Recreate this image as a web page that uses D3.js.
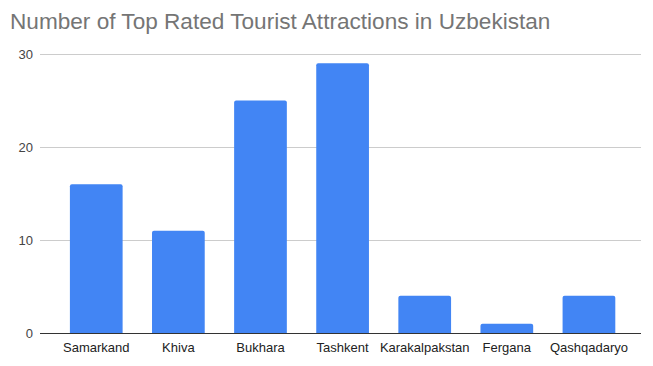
<!DOCTYPE html>
<html><head><meta charset="utf-8">
<script src="https://cdn.jsdelivr.net/npm/d3@7"></script>
<style>body{margin:0;background:#fff;} text{font-family:Arial,"Liberation Sans",sans-serif;}</style>
</head><body><svg id="c" width="653" height="366"></svg>
<script>
const categories = ["Samarkand","Khiva","Bukhara","Tashkent","Karakalpakstan","Fergana","Qashqadaryo"];
const values = [16, 11, 25, 29, 4, 1, 4];
const yTicks = [0, 10, 20, 30];
const title = "Number of Top Rated Tourist Attractions in Uzbekistan";

const svg = d3.select("#c");
const W = 653, H = 366;
const plotL = 40, plotR = 641, plotT = 54, plotB = 333;

svg.append("rect").attr("width", W).attr("height", H).attr("fill", "#fff");

svg.append("text").attr("x", 10).attr("y", 29).attr("font-size", 22.6)
  .attr("fill", "#757575").text(title);

const y = d3.scaleLinear().domain([0, 30]).range([plotB, plotT]);
const x = d3.scaleBand().domain(categories).range([55.2, 630]).paddingInner(0.358).paddingOuter(0.179);

svg.append("g").selectAll("line").data(yTicks.filter(d => d !== 0)).join("line")
  .attr("x1", plotL).attr("x2", plotR)
  .attr("y1", d => Math.round(y(d)) + 0.5).attr("y2", d => Math.round(y(d)) + 0.5)
  .attr("stroke", "#cccccc").attr("stroke-width", 1);

svg.append("g").selectAll("text").data(yTicks).join("text")
  .attr("x", 33).attr("y", d => y(d) + 4.5).attr("text-anchor", "end")
  .attr("font-size", 13).attr("fill", "#444").text(d => d);

const r = 2;
svg.append("g").selectAll("path").data(values).join("path")
  .attr("fill", "#4285f4")
  .attr("d", (d, i) => {
    const x0 = x(categories[i]), w = x.bandwidth(), y0 = y(d), y1 = y(0);
    return `M${x0},${y1}V${y0 + r}Q${x0},${y0} ${x0 + r},${y0}H${x0 + w - r}Q${x0 + w},${y0} ${x0 + w},${y0 + r}V${y1}Z`;
  });

svg.append("line").attr("x1", plotL).attr("x2", plotR)
  .attr("y1", plotB + 0.5).attr("y2", plotB + 0.5).attr("stroke", "#333").attr("stroke-width", 1);

svg.append("g").selectAll("text").data(categories).join("text")
  .attr("x", d => x(d) + x.bandwidth() / 2).attr("y", 352)
  .attr("text-anchor", "middle").attr("font-size", 13).attr("fill", "#222").text(d => d);
</script></body></html>
